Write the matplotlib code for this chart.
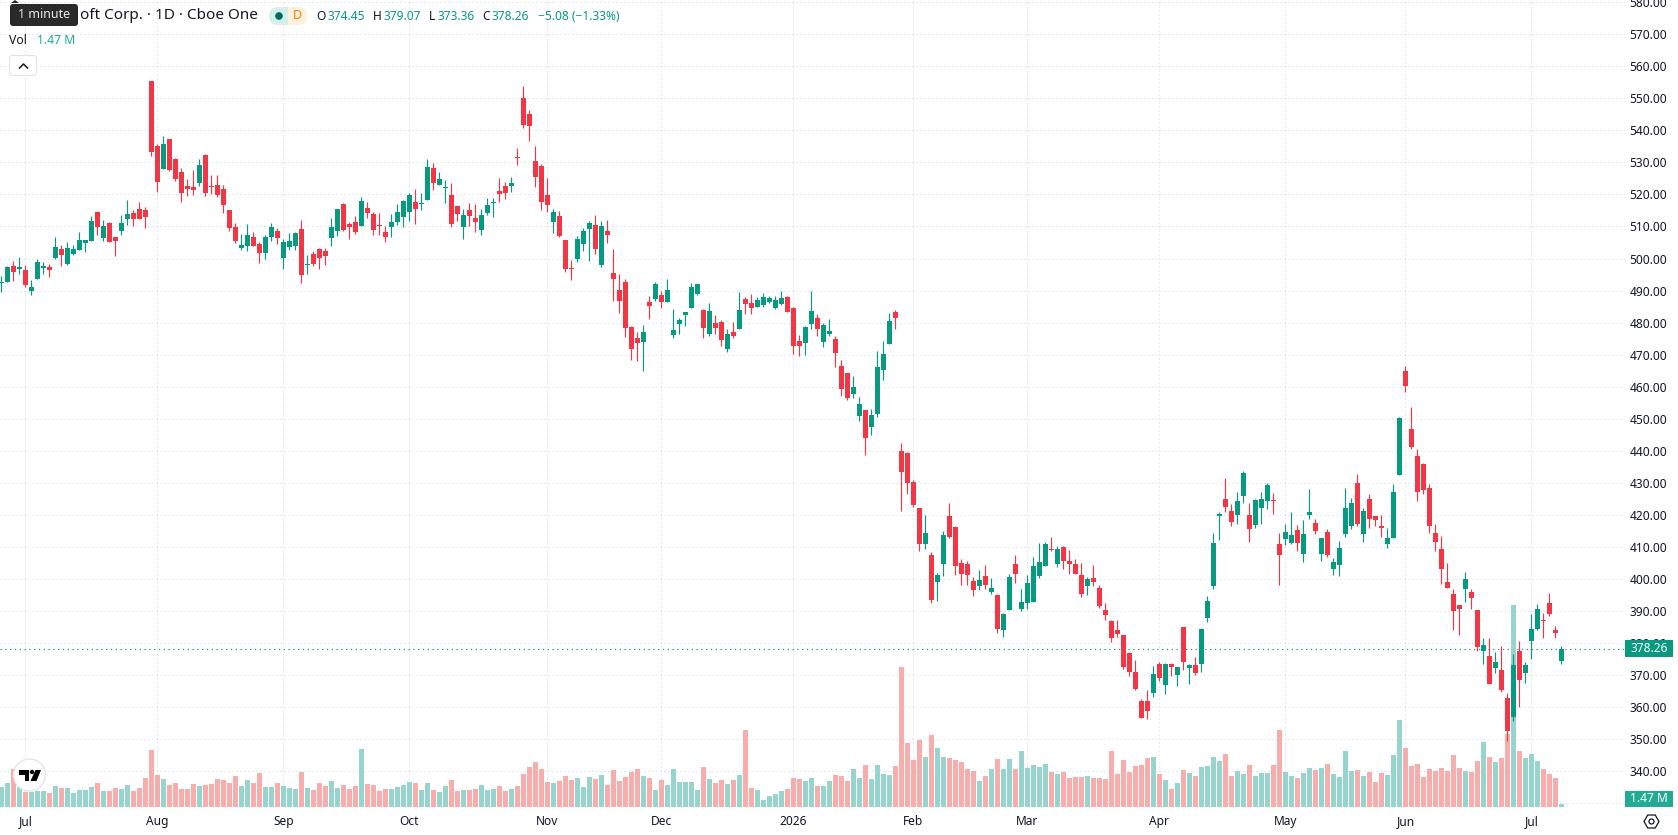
# Daily candlestick chart with volume for Microsoft, styled like a trading terminal
import numpy as np
import matplotlib
matplotlib.use("Agg")
import matplotlib.pyplot as plt
from matplotlib.patches import Circle, FancyBboxPatch, Polygon, Rectangle

plt.rcParams['font.family'] = ['Noto Sans', 'DejaVu Sans']

# Daily prices
opens = [
    492.2, 492.6, 497.6, 496.7, 496.4, 489.8, 493.5, 497.0, 497.3, 500.1,
    502.9, 498.2, 501.4, 502.6, 504.8, 505.4, 514.5, 506.4, 511.0, 506.7,
    508.5, 512.3, 514.2, 515.4, 515.1, 555.4, 535.1, 527.9, 537.3, 531.0,
    527.0, 522.6, 522.3, 523.5, 532.3, 522.6, 522.9, 521.7, 515.1, 509.8,
    503.2, 503.9, 506.7, 504.5, 501.7, 506.7, 508.5, 500.1, 503.5, 503.9,
    509.2, 497.9, 501.4, 502.9, 502.3, 506.4, 508.5, 517.0, 510.7, 511.4,
    510.1, 515.7, 513.9, 510.4, 508.2, 509.8, 511.4, 512.9, 514.5, 517.6,
    517.0, 518.2, 528.2, 522.9, 522.0, 519.8, 516.4, 509.8, 515.1, 512.6,
    508.9, 514.2, 517.3, 521.0, 522.6, 522.6, 531.7, 550.1, 545.1, 530.4,
    528.9, 519.8, 511.4, 513.2, 505.7, 497.0, 499.8, 504.5, 509.2, 510.4,
    497.9, 508.5, 495.4, 490.1, 492.6, 478.5, 475.1, 473.9, 486.4, 487.3,
    488.5, 486.4, 476.0, 479.5, 482.3, 484.5, 488.9, 483.9, 476.4, 479.8,
    480.1, 471.7, 477.0, 477.9, 487.3, 486.0, 484.8, 485.4, 486.4, 484.5,
    485.7, 487.9, 484.5, 474.2, 473.5, 479.5, 481.4, 473.9, 476.4, 474.8,
    466.4, 464.2, 457.7, 450.9, 452.7, 447.4, 451.5, 465.2, 473.3, 483.3,
    439.9, 439.3, 430.3, 422.2, 411.0, 407.5, 399.1, 404.7, 419.7, 416.3,
    405.0, 404.7, 399.4, 397.9, 401.0, 396.0, 395.1, 383.9, 390.4, 404.7,
    390.7, 392.6, 392.9, 401.0, 404.1, 409.4, 404.7, 409.9, 405.6, 404.7,
    401.2, 397.8, 400.3, 397.2, 390.3, 386.9, 384.1, 382.5, 376.9, 371.0,
    362.0, 362.0, 364.5, 373.5, 367.0, 373.5, 370.1, 385.0, 372.3, 373.2,
    373.5, 387.8, 397.8, 419.6, 424.9, 421.2, 419.9, 425.8, 419.9, 416.8,
    422.1, 424.3, 424.6, 410.9, 412.4, 411.2, 415.2, 407.8, 419.9, 417.4,
    407.8, 414.6, 403.1, 404.3, 414.0, 416.5, 429.9, 414.0, 424.9, 419.6,
    416.5, 410.9, 412.8, 432.4, 464.8, 446.7, 438.3, 435.8, 428.3, 414.3,
    409.2, 398.9, 395.4, 391.7, 396.7, 396.0, 390.4, 377.6, 376.0, 372.3,
    371.7, 362.9, 357.0, 377.6, 370.7, 380.7, 384.5, 387.3, 392.6, 384.2,
    374.45,
]
closes = [
    492.4, 497.3, 495.7, 497.3, 491.7, 491.0, 498.9, 497.6, 496.4, 503.5,
    501.0, 503.2, 502.9, 505.7, 505.7, 511.7, 509.8, 510.1, 505.1, 505.4,
    511.0, 513.9, 512.3, 512.3, 512.9, 533.2, 523.9, 535.7, 527.6, 524.8,
    520.4, 521.7, 521.4, 529.2, 520.4, 522.3, 519.8, 516.7, 509.5, 505.4,
    504.2, 507.3, 503.9, 501.7, 506.7, 509.8, 506.4, 505.1, 505.4, 507.9,
    494.8, 498.2, 498.2, 500.1, 500.7, 509.8, 515.4, 508.9, 509.8, 508.2,
    517.9, 514.2, 508.9, 510.1, 506.7, 511.4, 514.5, 517.9, 519.8, 515.4,
    517.2, 528.5, 523.5, 524.8, 522.3, 510.7, 513.9, 513.5, 513.2, 511.4,
    513.5, 516.7, 517.6, 520.1, 520.4, 523.5, 531.4, 541.7, 541.4, 525.4,
    517.6, 516.7, 514.5, 507.0, 496.7, 496.7, 506.0, 508.5, 511.0, 502.9,
    510.1, 507.3, 493.5, 486.7, 478.2, 471.7, 473.5, 477.0, 485.1, 492.0,
    486.4, 490.1, 477.6, 480.7, 483.2, 491.0, 492.0, 478.2, 483.5, 478.2,
    474.5, 476.4, 475.7, 483.9, 485.7, 484.5, 487.0, 487.9, 487.6, 487.0,
    487.6, 483.2, 472.6, 472.6, 478.5, 483.5, 477.9, 479.2, 477.3, 470.5,
    459.3, 456.5, 459.9, 454.6, 444.0, 451.2, 466.1, 470.2, 480.4, 481.4,
    433.4, 430.0, 423.1, 411.0, 414.4, 393.5, 401.3, 413.8, 413.2, 404.1,
    401.6, 401.3, 396.6, 399.8, 398.2, 397.3, 384.5, 389.2, 400.7, 401.6,
    392.9, 398.8, 404.1, 405.4, 411.0, 409.1, 409.4, 405.6, 404.7, 401.5,
    395.3, 400.0, 399.0, 391.6, 388.8, 381.6, 382.8, 372.6, 371.0, 365.7,
    356.7, 358.9, 370.4, 369.1, 373.5, 372.6, 372.6, 374.1, 373.2, 370.7,
    384.4, 393.1, 411.2, 420.2, 422.4, 417.7, 424.3, 433.0, 415.6, 424.6,
    424.9, 429.3, 424.3, 407.5, 414.6, 413.7, 411.2, 414.0, 420.9, 414.9,
    412.8, 407.5, 405.3, 409.6, 422.1, 423.7, 417.1, 421.2, 418.7, 418.4,
    415.9, 412.8, 427.1, 450.1, 460.1, 441.1, 427.1, 427.7, 416.5, 411.5,
    403.2, 397.3, 390.1, 390.7, 400.1, 393.9, 378.9, 379.5, 367.3, 374.2,
    365.4, 352.6, 373.2, 368.5, 373.2, 384.5, 390.7, 387.0, 388.9, 383.2,
    378.26,
]
highs = [
    494.5, 497.8, 499.2, 500.6, 497.9, 493.4, 500.0, 498.9, 498.2, 506.7,
    504.2, 505.1, 504.2, 508.2, 505.7, 513.2, 514.8, 512.0, 511.4, 506.7,
    513.5, 518.2, 515.1, 517.6, 516.0, 555.4, 535.7, 538.2, 537.3, 531.4,
    528.2, 524.8, 527.6, 531.0, 532.6, 526.0, 526.0, 522.9, 515.1, 511.0,
    507.6, 510.7, 508.2, 505.1, 507.3, 511.0, 509.5, 506.0, 507.9, 508.2,
    512.0, 501.0, 502.3, 503.2, 503.2, 512.6, 515.4, 517.3, 511.4, 513.2,
    519.2, 517.6, 514.5, 514.2, 510.1, 513.9, 517.0, 518.2, 520.4, 521.7,
    520.4, 531.0, 529.8, 527.0, 524.5, 523.5, 516.4, 515.4, 517.3, 517.0,
    515.4, 518.9, 518.9, 525.1, 523.9, 525.4, 534.5, 553.9, 546.4, 535.1,
    529.5, 525.1, 515.4, 514.8, 505.7, 499.5, 507.0, 509.5, 511.7, 513.5,
    511.7, 512.0, 502.9, 495.1, 493.5, 478.9, 477.0, 479.2, 488.2, 492.6,
    489.8, 493.5, 484.2, 481.4, 483.2, 492.3, 492.0, 484.2, 486.0, 482.3,
    480.7, 477.9, 480.1, 489.5, 487.9, 488.9, 487.9, 489.2, 488.2, 488.2,
    489.8, 488.2, 484.8, 476.0, 478.9, 489.8, 482.6, 479.8, 481.1, 475.8,
    468.3, 464.2, 463.3, 456.8, 452.7, 453.0, 471.1, 474.2, 482.9, 483.9,
    442.4, 439.6, 430.9, 422.2, 420.0, 408.5, 401.9, 415.0, 423.7, 416.6,
    406.3, 405.7, 400.7, 402.9, 404.4, 400.4, 395.4, 389.5, 401.6, 407.5,
    397.0, 401.3, 406.9, 411.3, 411.6, 413.2, 410.4, 410.3, 409.0, 406.2,
    405.0, 400.6, 404.3, 398.1, 392.5, 387.2, 387.2, 382.5, 377.2, 374.7,
    362.6, 365.4, 372.9, 374.1, 373.8, 373.8, 372.6, 385.0, 373.5, 375.7,
    384.7, 394.7, 414.3, 420.9, 431.4, 423.3, 427.1, 433.6, 423.7, 424.9,
    427.1, 429.9, 426.8, 414.3, 417.1, 420.9, 416.8, 418.4, 428.0, 418.7,
    412.8, 415.6, 406.5, 411.8, 428.3, 425.2, 432.7, 422.1, 426.5, 419.6,
    419.9, 415.9, 429.6, 450.4, 466.3, 453.6, 440.5, 436.1, 429.6, 417.1,
    413.5, 405.1, 397.0, 392.0, 402.0, 397.0, 390.4, 381.7, 381.7, 377.3,
    379.2, 364.5, 376.7, 380.7, 374.2, 389.2, 392.3, 389.5, 395.7, 385.4,
    379.07,
]
lows = [
    489.5, 492.6, 492.9, 495.3, 491.1, 488.5, 493.5, 495.1, 494.2, 499.8,
    497.6, 497.9, 501.0, 502.6, 502.0, 505.4, 507.3, 505.4, 505.1, 500.7,
    507.3, 510.4, 510.1, 512.3, 509.5, 532.0, 520.6, 527.9, 527.3, 524.2,
    517.6, 519.5, 519.8, 522.6, 519.5, 520.1, 519.2, 514.2, 508.5, 504.8,
    502.6, 502.3, 503.9, 498.5, 499.8, 505.4, 504.5, 496.7, 502.6, 502.6,
    492.3, 495.1, 497.6, 496.7, 497.9, 503.9, 507.0, 508.5, 506.0, 507.6,
    510.1, 512.6, 507.3, 507.3, 505.1, 506.7, 510.4, 509.8, 511.7, 510.7,
    515.1, 518.2, 521.4, 522.9, 517.3, 509.8, 511.7, 506.0, 510.1, 508.2,
    507.3, 513.5, 512.9, 517.6, 518.5, 520.7, 529.2, 540.7, 536.7, 522.3,
    515.1, 514.5, 507.9, 506.7, 495.7, 493.2, 498.9, 502.3, 499.2, 501.4,
    497.3, 504.8, 486.7, 482.9, 475.4, 468.2, 467.9, 464.8, 481.0, 486.7,
    484.5, 486.4, 475.1, 476.4, 478.9, 484.5, 488.5, 475.1, 475.7, 476.4,
    472.6, 470.7, 475.1, 477.9, 482.6, 482.6, 484.8, 484.8, 486.0, 484.2,
    485.4, 483.2, 470.1, 469.5, 469.8, 477.9, 475.7, 472.3, 475.8, 466.1,
    457.1, 455.8, 456.5, 449.3, 438.7, 444.9, 450.5, 462.1, 473.3, 478.0,
    421.3, 426.6, 422.5, 408.8, 409.4, 392.6, 393.2, 401.0, 412.9, 401.3,
    398.2, 398.2, 394.8, 396.6, 397.0, 395.4, 383.2, 382.0, 390.4, 398.8,
    390.1, 390.7, 392.9, 400.4, 404.1, 408.8, 403.8, 403.1, 401.5, 401.5,
    394.4, 395.0, 397.8, 390.9, 387.2, 380.4, 381.9, 371.9, 369.8, 365.4,
    356.7, 356.4, 363.2, 368.2, 364.2, 369.8, 366.6, 371.6, 367.3, 370.1,
    371.0, 386.6, 396.9, 412.1, 420.9, 416.5, 417.1, 423.7, 411.5, 415.9,
    417.1, 421.8, 420.2, 398.1, 410.6, 410.9, 408.7, 405.3, 418.7, 414.0,
    405.6, 406.8, 401.2, 400.9, 413.1, 415.6, 416.5, 411.5, 415.9, 416.5,
    413.1, 409.6, 412.8, 432.4, 458.2, 440.5, 424.3, 426.5, 414.3, 408.7,
    398.5, 397.3, 384.2, 382.6, 392.9, 390.7, 377.6, 373.5, 367.3, 370.7,
    364.8, 349.5, 355.7, 360.1, 367.6, 375.1, 383.9, 381.4, 388.5, 381.4,
    373.36,
]
# Volume in millions of shares
volumes = [
    10, 12, 19, 10, 7.7, 7.5, 8, 8, 7, 10.5,
    9.5, 9.5, 7, 8.5, 8.5, 10, 12, 8, 8, 9.5,
    9, 11, 8, 9.5, 14.5, 28.5, 16, 14, 11, 12,
    9, 9, 11.5, 10.5, 11, 11.5, 14, 13.5, 12, 15.5,
    10.5, 13.5, 12, 17, 10, 10, 12, 10.5, 9.5, 9,
    17.5, 9.5, 8.5, 12, 10.5, 13, 9.5, 11, 9, 10.5,
    29, 11.5, 11, 8, 9, 9, 10, 11, 12.5, 12,
    8.5, 12, 8.5, 7.5, 10.5, 13.5, 8, 8.5, 8.5, 9,
    11, 8.5, 9, 10.5, 8, 9, 10.5, 16.5, 20, 22.5,
    19, 12.5, 12, 13, 15.5, 13.5, 14.5, 10, 15, 14,
    16, 11, 18.5, 13, 15, 17.5, 19, 15.5, 14.5, 8.5,
    13.5, 11, 19, 12.5, 12.5, 12.5, 8.5, 20, 14, 12,
    13.5, 11.5, 13.5, 16, 38.5, 9.5, 8.5, 3.5, 5.5, 6.5,
    8, 9, 14.5, 14, 13, 14.5, 10.5, 10.5, 13, 16,
    15.5, 13, 19, 14.5, 21, 14, 21, 16.5, 16, 20.5,
    70, 32, 23.5, 33.5, 25, 36, 29.5, 25, 24.5, 23.5,
    22.5, 19, 18, 13, 15.5, 19, 24, 19, 24, 19,
    28, 19.5, 21, 20, 21.5, 17.5, 16.5, 17.5, 14.5, 15,
    15, 15.5, 14.5, 14.5, 14, 28, 16.5, 23.5, 17.5, 20.5,
    21, 24.5, 25, 16.5, 13.5, 9, 12, 18.5, 17, 15.5,
    20, 20.5, 25, 23, 26.5, 15.5, 18, 16.5, 21, 15.5,
    17, 17, 21, 38.5, 17.5, 15.5, 14.5, 17, 19.5, 18.5,
    19.5, 21.5, 16.5, 15, 28, 18, 18.5, 15.5, 17.5, 12.5,
    17, 16, 26, 43.5, 29.5, 20.5, 21.5, 15, 19, 18,
    19.5, 18, 26, 19.5, 18, 17.5, 23, 32.5, 25, 22.5,
    24.5, 36.5, 101, 28, 24.5, 26.5, 23, 19, 16.5, 14.5,
    1.47,
]

# Month labels and the bar each one starts on
month_pos = [4, 26, 47, 68, 91, 110, 132, 152, 171, 193, 214, 234, 255]
month_labels = ['Jul', 'Aug', 'Sep', 'Oct', 'Nov', 'Dec', '2026', 'Feb', 'Mar', 'Apr', 'May', 'Jun', 'Jul']
price_ticks = list(range(330, 590, 10))
last_close = 378.26

UP = '#089981'
DOWN = '#F23645'
TEXT = '#131722'
GRID = '#CFD2D8'
dots = (0, (1, 3))
px = 0.72

opens = np.array(opens)
closes = np.array(closes)
highs = np.array(highs)
lows = np.array(lows)
volumes = np.array(volumes)
idx = np.arange(len(opens))
is_up = closes >= opens

W, H = 1678, 835
fig = plt.figure(figsize=(W / 100, H / 100), dpi=100, facecolor='white')
rect = [0, (H - 807) / H, 1624 / W, 807 / H]

# grid and tick labels sit at the back
ax_grid = fig.add_axes(rect, zorder=0)
ax_vol = fig.add_axes(rect, zorder=1)
ax = fig.add_axes(rect, zorder=2)
xlim = (-0.25, 270.4167)
ylim = (328.81, 580.68)
for a in (ax_grid, ax_vol, ax):
    a.set_xlim(xlim)
    for s in a.spines.values():
        s.set_visible(False)
for a in (ax_vol, ax):
    a.patch.set_visible(False)
    a.set_xticks([])
    a.set_yticks([])

ax_grid.set_ylim(ylim)
ax_grid.yaxis.tick_right()
ax_grid.set_yticks(price_ticks)
# the 330 label is covered by the volume tag, so it stays empty
ax_grid.set_yticklabels(['' if p == 330 else '%.2f' % p for p in price_ticks], fontsize=8.6, color=TEXT)
ax_grid.set_xticks(month_pos)
ax_grid.set_xticklabels(month_labels, fontsize=8.6, color=TEXT)
ax_grid.tick_params(axis='both', length=0)
ax_grid.tick_params(axis='x', pad=6)
ax_grid.tick_params(axis='y', pad=4)
ax_grid.grid(True, color=GRID, lw=px, ls=dots)
ax_grid.set_axisbelow(True)
for p, lab in zip(price_ticks, ax_grid.get_yticklabels()):
    if p % 50 == 0:
        lab.set_fontweight('bold')
ax_grid.get_xticklabels()[6].set_fontweight('bold')
ax_grid.axhline(last_close, color=UP, lw=px * 1.2, ls=(0, (1, 3)))

# volume bars, 2 px per million
ax_vol.set_ylim(0, 403.5)
vol_colors = np.where(is_up, '#92D2CC', '#F7A9A7')
ax_vol.bar(idx, volumes, width=0.82, color=vol_colors, alpha=0.95, linewidth=0)

# candles
ax.set_ylim(ylim)
colors = np.where(is_up, UP, DOWN)
ax.vlines(idx, lows, highs, colors=colors, lw=px * 1.15)
body_low = np.minimum(opens, closes)
body_h = np.maximum(np.abs(closes - opens), 0.31)
ax.bar(idx, body_h, bottom=body_low, width=0.82, color=colors, linewidth=0)

# header, price tags and small controls drawn in screen pixels
ui = fig.add_axes([0, 0, 1, 1], zorder=5)
ui.set_xlim(0, W)
ui.set_ylim(H, 0)
ui.axis('off')

ui.text(80, 15.5, 'oft Corp. · 1D · Cboe One', fontsize=11, color=TEXT, ha='left', va='center')
ui.add_patch(Polygon([[11, 3], [15, 0], [19, 3]], color='#2A2A2A', lw=0))
ui.add_patch(FancyBboxPatch((10, 4), 68, 22, boxstyle='round,pad=0,rounding_size=3', fc='#2A2A2A', ec='none'))
ui.text(44, 15, '1 minute', fontsize=9, color='#E8E8E8', ha='center', va='center')

pill_g = FancyBboxPatch((269, 7), 38, 18, boxstyle='round,pad=0,rounding_size=9', fc='#D6EFEB', ec='none')
pill_o = FancyBboxPatch((269, 7), 38, 18, boxstyle='round,pad=0,rounding_size=9', fc='#FFF1DD', ec='none')
ui.add_patch(pill_g)
ui.add_patch(pill_o)
pill_o.set_clip_path(Rectangle((288, 0), 30, 40, transform=ui.transData))
ui.add_patch(Circle((279, 16), 3.8, fc='#00695C', ec='none'))
ui.text(297.5, 15.5, 'D', fontsize=9, color='#F57C00', fontweight='bold', ha='center', va='center')

for x, s in [(321, 'O'), (377.5, 'H'), (432.5, 'L'), (486.5, 'C')]:
    ui.text(x, 16, s, fontsize=8.6, color=TEXT, ha='center', va='center')
for x, s in [(328, '374.45'), (384, '379.07'), (437, '373.36'), (492, '378.26'), (538, '−5.08 (−1.33%)')]:
    ui.text(x, 16, s, fontsize=8.6, color=UP, ha='left', va='center')

ui.text(9, 40.5, 'Vol', fontsize=8.8, color=TEXT, ha='left', va='center')
ui.text(37, 40.5, '1.47 M', fontsize=8.8, color='#22AB94', ha='left', va='center')
ui.add_patch(FancyBboxPatch((9.5, 55.5), 27, 20, boxstyle='round,pad=0,rounding_size=3', fc='white', ec='#E0E3EB', lw=0.8))
ui.plot([19.5, 23.5, 27.5], [68, 64, 68], color=TEXT, lw=1.1)

ui.add_patch(Rectangle((1625, 640), 48, 17, fc=UP, ec='none'))
ui.text(1649, 648.5, '378.26', fontsize=8.6, color='white', ha='center', va='center')
ui.add_patch(Rectangle((1625, 791), 48, 16, fc='#22AB94', ec='none'))
ui.text(1649, 799, '1.47 M', fontsize=8.6, color='white', ha='center', va='center')

# settings icon
hex_a = np.deg2rad(np.arange(0, 360, 60))
ui.add_patch(Polygon(np.c_[1651.5 + 7.5 * np.cos(hex_a), 821.5 + 7.5 * np.sin(hex_a)], fc='none', ec=TEXT, lw=0.9))
ui.add_patch(Circle((1651.5, 821.5), 2.5, fc='none', ec=TEXT, lw=0.9))

# attribution badge
ui.add_patch(Circle((29.5, 775), 16, fc='white', ec='#E6E6E6', lw=1))
ui.add_patch(Polygon([[18.5, 770], [29, 770], [29, 781], [24.5, 781], [24.5, 774.5], [18.5, 774.5]], fc='black', ec='none'))
ui.add_patch(Circle((32, 772), 2.2, fc='black', ec='none'))
ui.add_patch(Polygon([[35.5, 770], [41, 770], [36.5, 781], [30.5, 781]], fc='black', ec='none'))

fig.savefig('out.png', dpi=100, facecolor='white')
